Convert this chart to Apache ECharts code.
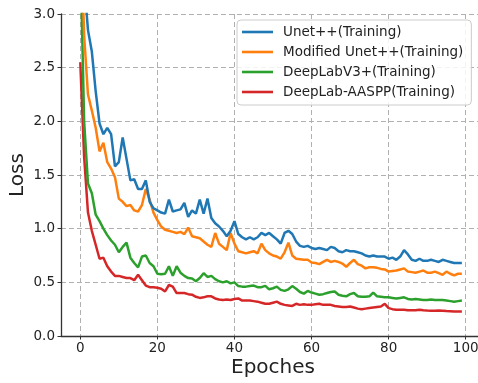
<!DOCTYPE html>
<html>
<head>
<meta charset="utf-8">
<script src="https://cdn.jsdelivr.net/npm/echarts@6/dist/echarts.min.js"></script>
<style>
html,body{margin:0;padding:0;background:#fff;}
#chart{width:478px;height:383px;}
</style>
</head>
<body>
<div id="chart"></div>
<script>
const epochs = Array.from({length: 100}, (_, i) => i);
const seriesNames = ['Unet++(Training)', 'Modified Unet++(Training)', 'DeepLabV3+(Training)', 'DeepLab-AASPP(Training)'];
const unetpp = [4.6, 3.3, 2.85, 2.65, 2.28, 1.98, 1.88, 1.94, 1.88, 1.58,
  1.62, 1.85, 1.65, 1.45, 1.46, 1.37, 1.37, 1.45, 1.25, 1.19,
  1.17, 1.15, 1.14, 1.27, 1.16, 1.17, 1.18, 1.24, 1.11, 1.17,
  1.14, 1.27, 1.14, 1.28, 1.10, 1.05, 1.02, 0.98, 0.93, 0.98,
  1.07, 0.95, 0.92, 0.90, 0.92, 0.90, 0.92, 0.96, 0.94, 0.96,
  0.93, 0.90, 0.86, 0.96, 0.98, 0.95, 0.88, 0.84, 0.83, 0.84,
  0.82, 0.81, 0.82, 0.81, 0.80, 0.83, 0.82, 0.79, 0.78, 0.80,
  0.79, 0.79, 0.78, 0.77, 0.75, 0.74, 0.75, 0.74, 0.74, 0.74,
  0.72, 0.73, 0.71, 0.74, 0.80, 0.76, 0.71, 0.70, 0.72, 0.70,
  0.70, 0.71, 0.70, 0.69, 0.71, 0.70, 0.69, 0.68, 0.68, 0.68];
const modUnetpp = [4.0, 2.8, 2.25, 2.1, 1.94, 1.72, 1.80, 1.62, 1.56, 1.48,
  1.28, 1.25, 1.21, 1.22, 1.17, 1.16, 1.22, 1.37, 1.27, 1.15,
  1.08, 1.02, 0.99, 0.98, 0.97, 0.96, 0.97, 0.95, 1.01, 0.93,
  0.92, 0.91, 0.88, 0.85, 0.83, 0.96, 0.86, 0.83, 0.80, 0.96,
  0.86, 0.79, 0.78, 0.77, 0.78, 0.79, 0.77, 0.86, 0.80, 0.77,
  0.75, 0.74, 0.72, 0.78, 0.87, 0.75, 0.72, 0.715, 0.71, 0.71,
  0.685, 0.68, 0.67, 0.69, 0.71, 0.69, 0.70, 0.69, 0.675, 0.645,
  0.68, 0.71, 0.67, 0.655, 0.63, 0.64, 0.64, 0.635, 0.625, 0.62,
  0.60, 0.605, 0.61, 0.62, 0.63, 0.60, 0.595, 0.59, 0.60, 0.61,
  0.59, 0.59, 0.60, 0.585, 0.57, 0.60, 0.58, 0.565, 0.58, 0.58];
const deeplabv3 = [3.6, 2.0, 1.42, 1.33, 1.13, 1.07, 1.0, 0.94, 0.89, 0.85,
  0.78, 0.83, 0.87, 0.73, 0.68, 0.64, 0.74, 0.75, 0.68, 0.65,
  0.58, 0.575, 0.58, 0.65, 0.56, 0.65, 0.59, 0.56, 0.54, 0.535,
  0.51, 0.54, 0.585, 0.55, 0.56, 0.53, 0.51, 0.50, 0.51, 0.49,
  0.50, 0.465, 0.46, 0.46, 0.465, 0.47, 0.455, 0.455, 0.467, 0.435,
  0.445, 0.46, 0.43, 0.42, 0.435, 0.465, 0.44, 0.41, 0.395, 0.42,
  0.405, 0.395, 0.385, 0.39, 0.40, 0.41, 0.415, 0.385, 0.375, 0.37,
  0.39, 0.40, 0.37, 0.365, 0.365, 0.37, 0.405, 0.37, 0.365, 0.36,
  0.36, 0.355, 0.35, 0.355, 0.36, 0.345, 0.34, 0.345, 0.34, 0.335,
  0.335, 0.34, 0.335, 0.335, 0.335, 0.33, 0.325, 0.32, 0.325, 0.33];
const deeplabAaspp = [2.55, 1.67, 1.15, 0.98, 0.85, 0.72, 0.73, 0.65, 0.60, 0.56,
  0.56, 0.55, 0.54, 0.54, 0.52, 0.57, 0.52, 0.47, 0.455, 0.455,
  0.45, 0.44, 0.415, 0.475, 0.46, 0.40, 0.40, 0.40, 0.39, 0.385,
  0.365, 0.355, 0.36, 0.37, 0.37, 0.35, 0.34, 0.335, 0.34, 0.335,
  0.345, 0.35, 0.33, 0.33, 0.33, 0.325, 0.32, 0.31, 0.30, 0.30,
  0.31, 0.32, 0.30, 0.29, 0.285, 0.28, 0.30, 0.29, 0.295, 0.29,
  0.29, 0.295, 0.30, 0.29, 0.29, 0.29, 0.28, 0.275, 0.27, 0.27,
  0.275, 0.265, 0.255, 0.25, 0.255, 0.26, 0.265, 0.27, 0.275, 0.30,
  0.26, 0.25, 0.245, 0.245, 0.245, 0.24, 0.24, 0.24, 0.245, 0.24,
  0.237, 0.235, 0.235, 0.237, 0.235, 0.232, 0.23, 0.228, 0.228, 0.228];
const colors = ['#1f77b4', '#ff7f0e', '#2ca02c', '#d62728'];
const allValues = [unetpp, modUnetpp, deeplabv3, deeplabAaspp];

const font = 'DejaVu Sans';
const chart = echarts.init(document.getElementById('chart'), null, {renderer: 'canvas'});
const gridLine = {show: true, lineStyle: {color: '#b0b0b0', width: 1, type: [5, 3]}};
chart.setOption({
  animation: false,
  backgroundColor: '#ffffff',
  grid: {left: 61, right: -7, top: 14, bottom: 47, containLabel: false, outerBoundsMode: 'none'},
  legend: {
    orient: 'vertical', left: 237, top: 20,
    padding: [5, 8, 6, 5], itemGap: 6, itemWidth: 31, itemHeight: 2.6,
    icon: 'rect',
    backgroundColor: 'rgba(255,255,255,0.85)', borderColor: '#cccccc', borderWidth: 1, borderRadius: 4,
    textStyle: {fontFamily: font, fontSize: 13.5, color: '#222', lineHeight: 14, height: 14, padding: [0, 0, 0, 5]},
    data: seriesNames.map((n, k) => ({name: n, itemStyle: {color: colors[k]}}))
  },
  xAxis: {
    type: 'value', min: -5, max: 105, splitNumber: 5,
    name: 'Epoches', nameLocation: 'middle', nameGap: 22, nameMoveOverlap: false,
    nameTextStyle: {fontFamily: font, fontSize: 20, color: '#222'},
    axisLine: {show: true, onZero: false, lineStyle: {color: '#333', width: 1.3}},
    axisTick: {show: true, inside: false, length: 3.5, lineStyle: {color: '#333', width: 1}},
    axisLabel: {fontFamily: font, fontSize: 13.5, color: '#222', margin: 5, showMinLabel: false, showMaxLabel: false},
    splitLine: gridLine
  },
  yAxis: {
    type: 'value', min: 0, max: 3, interval: 0.5,
    name: 'Loss', nameLocation: 'middle', nameGap: 33, nameRotate: 90, nameMoveOverlap: false,
    nameTextStyle: {fontFamily: font, fontSize: 20, color: '#222'},
    axisLine: {show: true, onZero: false, lineStyle: {color: '#333', width: 1.3}},
    axisTick: {show: true, inside: false, length: 3.5, lineStyle: {color: '#333', width: 1}},
    axisLabel: {fontFamily: font, fontSize: 13.5, color: '#222', margin: 6, formatter: v => v.toFixed(1)},
    splitLine: gridLine
  },
  series: seriesNames.map((n, k) => ({
    name: n, type: 'line', symbol: 'none', clip: true,
    lineStyle: {color: colors[k], width: 2.5},
    itemStyle: {color: colors[k]},
    data: epochs.map((e, i) => [e, allValues[k][i]]),
    z: 10 - k
  }))
});
</script>
</body>
</html>
